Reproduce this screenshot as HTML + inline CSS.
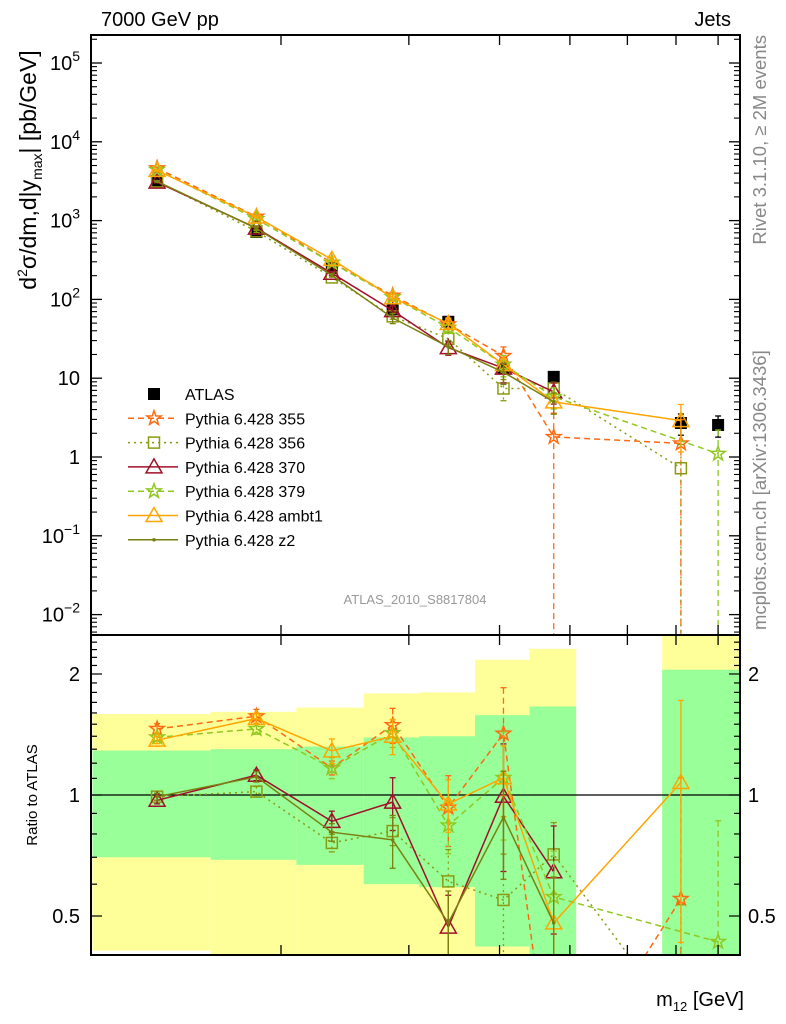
<!DOCTYPE html>
<html><head><meta charset="utf-8"><style>
html,body{margin:0;padding:0;background:#fff;width:786px;height:1024px;overflow:hidden;}
svg{display:block;font-family:"Liberation Sans",sans-serif;overflow:hidden;}
</style></head><body>
<svg id="chart" width="786" height="1024" viewBox="0 0 786 1024" xmlns="http://www.w3.org/2000/svg">
<defs>
<clipPath id="clipMain"><rect x="91" y="35" width="649" height="600"/></clipPath>
<clipPath id="clipRatio"><rect x="91" y="635" width="649" height="320"/></clipPath>
</defs>
<g id="ratioBands" clip-path="url(#clipRatio)"></g>
<g id="mainMarks" clip-path="url(#clipMain)"></g>
<g id="ratioMarks" clip-path="url(#clipRatio)"></g>
<g id="axes"></g>
<text x="101" y="26" font-size="20">7000 GeV pp</text>
<text x="731" y="26" font-size="20" text-anchor="end">Jets</text>
<text transform="translate(36,170) rotate(-90)" font-size="23" text-anchor="middle">d<tspan font-size="14" dy="-9">2</tspan><tspan dy="9">σ/dm,d|y</tspan><tspan font-size="14" dy="6">max</tspan><tspan dy="-6">| [pb/GeV]</tspan></text>
<text transform="translate(37,795) rotate(-90)" font-size="15" text-anchor="middle">Ratio to ATLAS</text>
<text x="744" y="1006" font-size="20" text-anchor="end">m<tspan font-size="13" dy="5">12</tspan><tspan dy="-5"> [GeV]</tspan></text>
<text transform="translate(766,35) rotate(-90)" font-size="18.5" fill="#888" text-anchor="end">Rivet 3.1.10, ≥ 2M events</text>
<text transform="translate(766,630) rotate(-90)" font-size="18.5" fill="#888">mcplots.cern.ch [arXiv:1306.3436]</text>
<text x="415" y="604" font-size="13" fill="#999" text-anchor="middle">ATLAS_2010_S8817804</text>
<g id="legend"></g>
</svg>
<script>
// ---- data ----
const massBins = [135, 185, 235, 285, 340, 405, 475, 711, 800];
const atlasValues = [3170, 717, 250, 75, 52, 13.5, 10.4, 2.7, 2.55];
const atlasErr = [0.05, 0.05, 0.06, 0.08, 0.1, 0.12, 0.15, 0.3, 0.3];
const p355 = [4630, 1126, 292, 112, 48.4, 19.2, 1.8, 1.49, null];
const p356 = [3140, 731, 190, 61, 31.7, 7.4, 7.4, 0.72, null];
const p370 = [3075, 803, 215, 72, 24.4, 13.4, 6.7, null, null];
const p379 = [4410, 1047, 292, 107, 43.7, 14.9, 5.8, null, 1.1];
const pAmbt1 = [4340, 1111, 322, 105, 49.4, 14.9, 5.0, 2.9, null];
const pZ2 = [3140, 796, 202, 58, 25, 11.9, 5.0, null, null];
const err355 = [0.03, 0.04, 0.04, 0.1, 0.2, 0.3, 1.0, 1.0, 0];
const err356 = [0.02, 0.03, 0.05, 0.08, 0.2, 0.3, 0.2, 1.0, 0];
const err370 = [0.02, 0.03, 0.06, 0.15, 0.2, 0.35, 0.3, 0, 0];
const err379 = [0.02, 0.03, 0.06, 0.08, 0.15, 0.3, 0.3, 0, 1.0];
const errAmbt1 = [0.02, 0.03, 0.07, 0.1, 0.15, 0.2, 0.3, 0.6, 0];
const errZ2 = [0.02, 0.03, 0.05, 0.15, 0.2, 0.3, 0.3, 0, 0];
const bandLo = [110, 160, 210, 260, 310, 370, 440, 670];
const bandHi = [160, 210, 260, 310, 370, 440, 510, 860];
const yellowTop = [1.59, 1.61, 1.65, 1.79, 1.80, 2.17, 2.31, 3.0];
const greenTop = [1.29, 1.30, 1.32, 1.39, 1.40, 1.58, 1.66, 2.05];
const greenBot = [0.70, 0.69, 0.67, 0.60, 0.59, 0.42, 0.3, 0.3];
const yellowBot = [0.41, 0.3, 0.3, 0.3, 0.3, 0.3, 0.3, 0.3];
const xTickVals = [200, 300, 400, 500, 600, 700, 800];
const mainTickExp = [-2, -1, 0, 1, 2, 3, 4, 5];
const mainTickLabels = ["10^-2", "10^-1", "1", "10", "10^2", "10^3", "10^4", "10^5"];
const ratioTickVals = [0.5, 1, 2];
const ratioTickLabels = ["0.5", "1", "2"];

// ---- axis functions ----
const X0 = 91, X1 = 740, MT = 35, MB = 635, RB = 955;
const xP = m => 281 + 726 * Math.log10(m / 200);
const yM = v => 457 - 78.8 * Math.log10(v);
const yR = r => 795 - 402 * Math.log10(r);
const NS = "http://www.w3.org/2000/svg";
function mk(tag, attrs, parent) {
  const e = document.createElementNS(NS, tag);
  for (const k in attrs) e.setAttribute(k, attrs[k]);
  parent.appendChild(e);
  return e;
}
const bands = document.getElementById('ratioBands');
const mainG = document.getElementById('mainMarks');
const ratioG = document.getElementById('ratioMarks');
const axes = document.getElementById('axes');
const legend = document.getElementById('legend');

bandLo.forEach((lo, i) => {
  const x = xP(lo), w = xP(bandHi[i]) - x;
  const y1 = mk('rect', {x: x, y: yR(yellowTop[i]), width: w, height: yR(yellowBot[i]) - yR(yellowTop[i]), fill: '#ffff99'}, bands);
  
  
  const g1 = mk('rect', {x: x, y: yR(greenTop[i]), width: w, height: yR(greenBot[i]) - yR(greenTop[i]), fill: '#99ff99'}, bands);
  
  
});
const one = mk('line', {x1: X0, x2: X1, y1: yR(1), y2: yR(1), stroke: '#000', 'stroke-width': 1.2}, ratioG);



function marker(type, cx, cy, color, parent) {
  let e;
  if (type === 'star') {
    let pts = [];
    for (let k = 0; k < 10; k++) {
      const r = k % 2 ? 3 : 7.5, a = -Math.PI / 2 + k * Math.PI / 5;
      pts.push((cx + r * Math.cos(a)).toFixed(1) + ',' + (cy + r * Math.sin(a)).toFixed(1));
    }
    e = mk('polygon', {points: pts.join(' '), fill: 'none', stroke: color, 'stroke-width': 1.5}, parent);
  } else if (type === 'square') {
    e = mk('rect', {x: cx - 5.5, y: cy - 5.5, width: 11, height: 11, fill: 'none', stroke: color, 'stroke-width': 1.5}, parent);
  } else if (type === 'tri') {
    e = mk('polygon', {points: `${cx},${cy - 8} ${cx - 8},${cy + 6} ${cx + 8},${cy + 6}`, fill: 'none', stroke: color, 'stroke-width': 1.5}, parent);
  } else if (type === 'dot') {
    e = mk('circle', {cx: cx, cy: cy, r: 1.8, fill: color}, parent);
  } else {
    e = mk('rect', {x: cx - 6, y: cy - 6, width: 12, height: 12, fill: color}, parent);
  }
  return e;
}

const series = [
  {name: 'Pythia 6.428 355', vals: p355, errs: err355, color: '#ff6a10', dash: '6,4', mk: 'star', id: 'series-355'},
  {name: 'Pythia 6.428 356', vals: p356, errs: err356, color: '#8a9a10', dash: '2,4', mk: 'square', id: 'series-356'},
  {name: 'Pythia 6.428 370', vals: p370, errs: err370, color: '#a0102a', dash: '', mk: 'tri', id: 'series-370'},
  {name: 'Pythia 6.428 379', vals: p379, errs: err379, color: '#90c820', dash: '6,4', mk: 'star', id: 'series-379'},
  {name: 'Pythia 6.428 ambt1', vals: pAmbt1, errs: errAmbt1, color: '#ffa500', dash: '', mk: 'tri', id: 'series-ambt1'},
  {name: 'Pythia 6.428 z2', vals: pZ2, errs: errZ2, color: '#7a8010', dash: '', mk: 'dot', id: 'series-z2'}
];

function errBar(parent, x, yTop, yBot, color, dash) {
  const l = mk('line', {x1: x, x2: x, y1: yTop, y2: yBot, stroke: color, 'stroke-width': 1.3}, parent);
  if (dash) l.setAttribute('stroke-dasharray', dash);
  mk('line', {x1: x - 3, x2: x + 3, y1: yTop, y2: yTop, stroke: color, 'stroke-width': 1.3}, parent);
  mk('line', {x1: x - 3, x2: x + 3, y1: yBot, y2: yBot, stroke: color, 'stroke-width': 1.3}, parent);
}

massBins.forEach((m, i) => {
  const v = atlasValues[i];
  const lo = v * (1 - atlasErr[i]), hi = v * (1 + atlasErr[i]);
  errBar(mainG, xP(m), yM(hi), yM(lo), '#000', '');
  const p = marker('fill', xP(m), yM(v), '#000', mainG);
  
  
});

series.forEach(s => {
  const gm = mk('g', {}, mainG);
  
  
  const gr = mk('g', {}, ratioG);
  
  
  let pm = [], pr = [];
  s.vals.forEach((v, i) => {
    if (v == null) return;
    const x = xP(massBins[i]);
    const r = v / atlasValues[i];
    pm.push(x.toFixed(1) + ',' + yM(v).toFixed(1));
    pr.push(x.toFixed(1) + ',' + yR(r).toFixed(1));
    const e = s.errs[i];
    if (e > 0) {
      const loV = v * (1 - e), hiV = v * (1 + e);
      errBar(gm, x, yM(hiV), loV > 0 ? yM(loV) : MB + 5, s.color, s.dash);
      errBar(gr, x, yR(hiV / atlasValues[i]), loV > 0 ? yR(loV / atlasValues[i]) : RB + 5, s.color, s.dash);
    }
  });
  [[gm, pm], [gr, pr]].forEach(([g, pts]) => {
    const pl = mk('polyline', {points: pts.join(' '), fill: 'none', stroke: s.color, 'stroke-width': 1.5}, g);
    if (s.dash) pl.setAttribute('stroke-dasharray', s.dash);
  });
  s.vals.forEach((v, i) => {
    if (v == null) return;
    const x = xP(massBins[i]);
    const a = marker(s.mk, x, yM(v), s.color, gm);
    
    
    const b = marker(s.mk, x, yR(v / atlasValues[i]), s.color, gr);
    
    
  });
});

const f1 = mk('rect', {x: X0, y: MT, width: X1 - X0, height: MB - MT, fill: 'none', stroke: '#000', 'stroke-width': 2}, axes);


const f2 = mk('rect', {x: X0, y: MB, width: X1 - X0, height: RB - MB, fill: 'none', stroke: '#000', 'stroke-width': 2}, axes);



xTickVals.forEach(m => {
  const x = xP(m);
  [[MT, MT + 10], [MB, MB - 10], [MB, MB + 10], [RB, RB - 10]].forEach(([a, b]) => {
    mk('line', {x1: x, x2: x, y1: a, y2: b, stroke: '#000', 'stroke-width': 1.3}, axes);
  });
});

mainTickExp.forEach((ex, i) => {
  const y = yM(Math.pow(10, ex));
  mk('line', {x1: X0, x2: X0 + 11, y1: y, y2: y, stroke: '#000', 'stroke-width': 1.3}, axes);
  mk('line', {x1: X1, x2: X1 - 11, y1: y, y2: y, stroke: '#000', 'stroke-width': 1.3}, axes);
  for (let k = 2; k <= 9; k++) {
    const ym = yM(k * Math.pow(10, ex));
    if (ym < MT) continue;
    mk('line', {x1: X0, x2: X0 + 6, y1: ym, y2: ym, stroke: '#000', 'stroke-width': 1.1}, axes);
    mk('line', {x1: X1, x2: X1 - 6, y1: ym, y2: ym, stroke: '#000', 'stroke-width': 1.1}, axes);
  }
  const lab = mainTickLabels[i];
  const t = mk('text', {x: 80, y: y + 7, 'font-size': 20, 'text-anchor': 'end'}, axes);
  
  
  if (lab.indexOf('^') >= 0) {
    const parts = lab.split('^');
    const base = document.createElementNS(NS, 'tspan'); base.textContent = parts[0]; t.appendChild(base);
    const sup = document.createElementNS(NS, 'tspan'); sup.textContent = parts[1].replace('-', '−');
    sup.setAttribute('font-size', 14); sup.setAttribute('dy', -9); t.appendChild(sup);
  } else t.textContent = lab;
});
for (let k = 6; k <= 9; k++) {
  const ym = yM(k * 0.001);
  if (ym < MB) {
    mk('line', {x1: X0, x2: X0 + 6, y1: ym, y2: ym, stroke: '#000', 'stroke-width': 1.1}, axes);
    mk('line', {x1: X1, x2: X1 - 6, y1: ym, y2: ym, stroke: '#000', 'stroke-width': 1.1}, axes);
  }
}

for (let r = 0.4; r <= 2.5001; r += 0.1) {
  const y = yR(r);
  if (y < MB || y > RB) continue;
  const major = Math.abs(r - 0.5) < 1e-6 || Math.abs(r - 1) < 1e-6 || Math.abs(r - 2) < 1e-6;
  const L = major ? 11 : 6;
  mk('line', {x1: X0, x2: X0 + L, y1: y, y2: y, stroke: '#000', 'stroke-width': 1.2}, axes);
  mk('line', {x1: X1, x2: X1 - L, y1: y, y2: y, stroke: '#000', 'stroke-width': 1.2}, axes);
}
ratioTickVals.forEach((r, i) => {
  const y = yR(r);
  const a = mk('text', {x: 80, y: y + 7, 'font-size': 20, 'text-anchor': 'end'}, axes);
  a.textContent = ratioTickLabels[i];
  
  
  const b = mk('text', {x: 748, y: y + 7, 'font-size': 20}, axes);
  b.textContent = ratioTickLabels[i];
  
  
});

const legY0 = 394, legDy = 24.3;
const le0 = mk('g', {}, legend);


marker('fill', 154, legY0, '#000', le0);
const lt0 = mk('text', {x: 185, y: legY0 + 6, 'font-size': 16}, le0);
lt0.textContent = 'ATLAS';
series.forEach((s, i) => {
  const y = legY0 + legDy * (i + 1);
  const g = mk('g', {}, legend);
  
  
  const l = mk('line', {x1: 128, x2: 178, y1: y, y2: y, stroke: s.color, 'stroke-width': 1.5}, g);
  if (s.dash) l.setAttribute('stroke-dasharray', s.dash);
  marker(s.mk, 154, y, s.color, g);
  const t = mk('text', {x: 185, y: y + 6, 'font-size': 16}, g);
  t.textContent = s.name;
});
</script>
</body></html>
